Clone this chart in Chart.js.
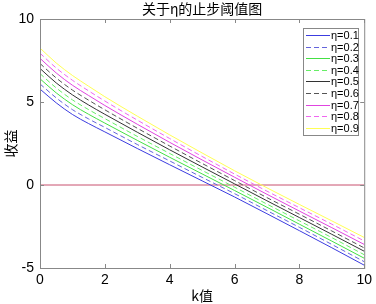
<!DOCTYPE html>
<html lang="zh">
<head>
<meta charset="UTF-8">
<title>关于η的止步阈值图</title>
<script src="https://cdn.jsdelivr.net/npm/chart.js"></script>
<style>
  body { margin: 0; background: #fff; }
  #wrap { width: 376px; height: 304px; }
</style>
</head>
<body>
<div id="wrap"><canvas id="chart" width="376" height="304"></canvas></div>
<script>
// k values (x axis)
const kVals = [0, 0.5, 1, 1.5, 2, 3, 4, 5, 6, 7, 8, 9, 10];

// 收益 for each η
const eta01 = [5.78, 4.95, 4.25, 3.70, 3.20, 2.20, 1.22, 0.25, -0.72, -1.73, -2.75, -3.78, -4.83];
const eta02 = [6.09, 5.25, 4.54, 3.98, 3.47, 2.44, 1.45, 0.46, -0.52, -1.54, -2.55, -3.58, -4.62];
const eta03 = [6.40, 5.55, 4.84, 4.26, 3.73, 2.69, 1.67, 0.67, -0.33, -1.34, -2.36, -3.38, -4.41];
const eta04 = [6.71, 5.85, 5.13, 4.54, 4.00, 2.93, 1.90, 0.88, -0.13, -1.15, -2.16, -3.17, -4.20];
const eta05 = [7.02, 6.15, 5.43, 4.82, 4.26, 3.18, 2.12, 1.09, 0.07, -0.95, -1.96, -2.97, -3.99];
const eta06 = [7.32, 6.45, 5.72, 5.11, 4.53, 3.42, 2.35, 1.30, 0.27, -0.76, -1.76, -2.77, -3.79];
const eta07 = [7.63, 6.75, 6.01, 5.39, 4.79, 3.66, 2.57, 1.51, 0.47, -0.56, -1.57, -2.57, -3.58];
const eta08 = [7.94, 7.05, 6.31, 5.67, 5.06, 3.91, 2.80, 1.72, 0.66, -0.37, -1.37, -2.36, -3.37];
const eta09 = [8.25, 7.35, 6.60, 5.95, 5.32, 4.15, 3.02, 1.93, 0.86, -0.17, -1.17, -2.16, -3.16];

const seriesLabels = ['η=0.1', 'η=0.2', 'η=0.3', 'η=0.4', 'η=0.5', 'η=0.6', 'η=0.7', 'η=0.8', 'η=0.9'];
const seriesData = [eta01, eta02, eta03, eta04, eta05, eta06, eta07, eta08, eta09];

// zero reference line
const zeroK = [0, 10];
const zeroVals = [0, 0];

const xTicks = [0, 2, 4, 6, 8, 10];
const yTicks = [-5, 0, 5, 10];

const colors = ['#3c3ce0', '#6464dc', '#44e044', '#66ee66', '#333333', '#555555', '#e044e0', '#f066f0', '#ffff55'];

const datasets = seriesData.map((vals, i) => ({
    label: seriesLabels[i],
    data: vals.map((v, j) => ({ x: kVals[j], y: v })),
    borderColor: colors[i],
    borderWidth: 1,
    borderDash: i % 2 === 1 ? [5, 3] : [],
    pointRadius: 0,
    cubicInterpolationMode: 'monotone',
    fill: false
}));
datasets.push({
    label: '',
    data: zeroVals.map((v, j) => ({ x: zeroK[j], y: v })),
    borderColor: '#c8506e',
    borderWidth: 1,
    pointRadius: 0,
    fill: false
});

const AXIS_GRAY = '#888';

// box, inward ticks, title, axis labels and legend (MATLAB look)
const framePlugin = {
    id: 'frame',
    afterDraw(chart) {
        const c = chart.ctx;
        const a = chart.chartArea;
        const xs = chart.scales.x, ys = chart.scales.y;
        c.save();
        c.strokeStyle = AXIS_GRAY;
        c.lineWidth = 1;
        c.strokeRect(a.left + 0.5, a.top + 0.5, a.right - a.left, a.bottom - a.top);
        c.beginPath();
        xTicks.forEach(t => {
            const px = Math.round(xs.getPixelForValue(t)) + 0.5;
            c.moveTo(px, a.bottom); c.lineTo(px, a.bottom - 4);
            c.moveTo(px, a.top); c.lineTo(px, a.top + 4);
        });
        yTicks.forEach(t => {
            const py = Math.round(ys.getPixelForValue(t)) + 0.5;
            c.moveTo(a.left, py); c.lineTo(a.left + 4, py);
            c.moveTo(a.right, py); c.lineTo(a.right - 4, py);
        });
        c.stroke();

        // title
        c.fillStyle = '#000';
        c.textAlign = 'center';
        c.textBaseline = 'middle';
        c.font = '14px "Noto Sans CJK SC"';
        c.fillText('关于η的止步阈值图', (a.left + a.right) / 2, 9);
        // x label
        c.fillText('k值', (a.left + a.right) / 2, 296);
        // y label
        c.save();
        c.translate(11, (a.top + a.bottom) / 2);
        c.rotate(-Math.PI / 2);
        c.fillText('收益', 0, 0);
        c.restore();

        // legend
        const lx = 303, ly = 28, lw = 55, lh = 107;
        c.fillStyle = '#fff';
        c.fillRect(lx, ly, lw, lh);
        c.strokeStyle = AXIS_GRAY;
        c.strokeRect(lx + 0.5, ly + 0.5, lw, lh);
        c.font = '11px "Liberation Sans"';
        c.textAlign = 'left';
        chart.data.datasets.forEach((ds, i) => {
            if (!ds.label) return;
            const y = Math.round(ly + 7 + i * 11.6) + 0.5;
            c.strokeStyle = ds.borderColor;
            c.setLineDash(ds.borderDash && ds.borderDash.length ? [5, 3] : []);
            c.beginPath();
            c.moveTo(lx + 3, y); c.lineTo(lx + 27, y);
            c.stroke();
            c.setLineDash([]);
            c.fillStyle = '#000';
            c.fillText(ds.label, lx + 28, y);
        });
        c.restore();
    }
};

const ctx = document.getElementById('chart').getContext('2d');
new Chart(ctx, {
    type: 'line',
    data: { datasets },
    options: {
        responsive: false,
        animation: false,
        devicePixelRatio: 1,
        layout: { padding: { top: 19, right: 9, left: 0, bottom: 0 } },
        plugins: {
            legend: { display: false },
            title: { display: false },
            tooltip: { enabled: false }
        },
        scales: {
            x: {
                type: 'linear', min: 0, max: 10,
                afterBuildTicks: s => { s.ticks = xTicks.map(v => ({ value: v })); },
                ticks: { color: '#000', font: { family: 'Liberation Sans', size: 14 }, padding: 4, maxRotation: 0 },
                grid: { display: false, drawTicks: false },
                border: { display: false },
                afterFit: s => { s.height = 36; }
            },
            y: {
                type: 'linear', min: -5, max: 10,
                afterBuildTicks: s => { s.ticks = yTicks.map(v => ({ value: v })); },
                ticks: { color: '#000', font: { family: 'Liberation Sans', size: 14 }, padding: 6 },
                grid: { display: false, drawTicks: false },
                border: { display: false },
                afterFit: s => { s.width = 40; }
            }
        }
    },
    plugins: [framePlugin]
});
</script>
</body>
</html>
